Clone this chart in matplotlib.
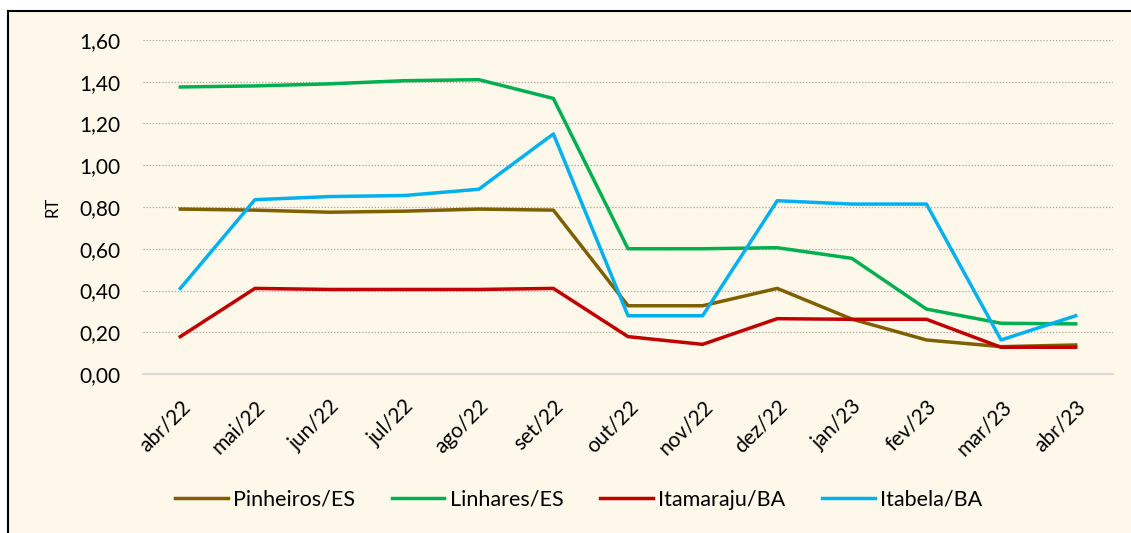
import numpy as np
import matplotlib
matplotlib.use("Agg")
import matplotlib.pyplot as plt
from matplotlib.ticker import FuncFormatter
from matplotlib.lines import Line2D

plt.rcParams['font.family'] = ['Lato', 'DejaVu Sans']

meses = ["abr/22", "mai/22", "jun/22", "jul/22", "ago/22", "set/22", "out/22",
         "nov/22", "dez/22", "jan/23", "fev/23", "mar/23", "abr/23"]

pinheiros = [0.79, 0.785, 0.775, 0.78, 0.79, 0.785, 0.327, 0.327, 0.41, 0.263, 0.163, 0.131, 0.139]
linhares = [1.375, 1.38, 1.39, 1.405, 1.41, 1.32, 0.60, 0.60, 0.605, 0.554, 0.311, 0.243, 0.24]
itamaraju = [0.179, 0.41, 0.405, 0.405, 0.405, 0.41, 0.179, 0.142, 0.265, 0.262, 0.262, 0.128, 0.128]
itabela = [0.41, 0.835, 0.85, 0.855, 0.885, 1.15, 0.279, 0.279, 0.83, 0.814, 0.814, 0.163, 0.279]

series = [("Pinheiros/ES", pinheiros, "#7F6000"),
          ("Linhares/ES", linhares, "#00B050"),
          ("Itamaraju/BA", itamaraju, "#C00000"),
          ("Itabela/BA", itabela, "#00B0F0")]

bg = "#FDF8E9"
fig = plt.figure(figsize=(11.31, 5.33), dpi=100)
fig.patch.set_facecolor("white")

# fundo creme com borda preta (esquerda e topo visiveis)
x0 = 8 / 1131
y1 = 1 - 11 / 533
fig.patches.append(plt.Rectangle((x0, 0), 1 - x0, y1, transform=fig.transFigure,
                                 facecolor=bg, edgecolor="none", zorder=-10))
fig.lines.append(Line2D([x0, x0], [0, y1], transform=fig.transFigure, color="black", lw=1.5))
fig.lines.append(Line2D([x0, 1], [y1, y1], transform=fig.transFigure, color="black", lw=1.5))

ax = fig.add_axes([143 / 1131, 1 - 374 / 533, (1113 - 143) / 1131, (374 - 40) / 533])
ax.set_facecolor("none")

x = np.arange(len(meses))
for nome, vals, cor in series:
    ax.plot(x, vals, color=cor, lw=2.5, label=nome)

ax.set_xlim(-0.5, len(meses) - 0.5)
ax.set_ylim(0, 1.6)
ax.set_yticks(np.arange(0, 1.61, 0.2))
ax.yaxis.set_major_formatter(FuncFormatter(lambda v, p: f"{v:.2f}".replace(".", ",")))
ax.set_xticks(x)
ax.set_xticklabels(meses, rotation=45, ha="right", rotation_mode="anchor")
ax.tick_params(axis="both", length=0, labelsize=15, colors="black")
ax.tick_params(axis="x", pad=16)
ax.tick_params(axis="y", pad=16.5)

ax.grid(axis="y", color="#A6A6A6", linestyle=(0, (1, 1.5)), lw=0.9)
ax.set_axisbelow(True)
for s in ["top", "right", "left"]:
    ax.spines[s].set_visible(False)
ax.spines["bottom"].set_color("#D9D9D9")
ax.spines["bottom"].set_linewidth(1.5)

ax.set_ylabel("RT", fontsize=12, labelpad=13)

fig.legend(loc="center", bbox_to_anchor=(0.5115, 1 - 500 / 533), ncol=4, frameon=False,
           fontsize=15.5, handlelength=2.45, handletextpad=0.25, columnspacing=1.7)

fig.savefig("out.png", dpi=100, facecolor=fig.get_facecolor())
